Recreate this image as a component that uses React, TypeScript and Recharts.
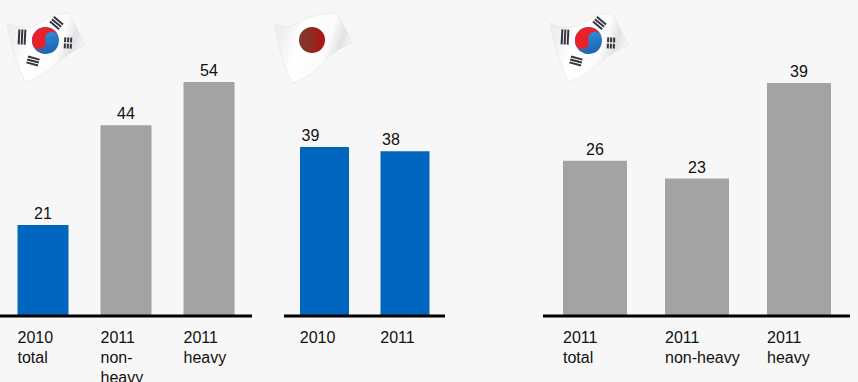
import { BarChart, Bar, Cell, XAxis, YAxis, LabelList } from "recharts";

const BLUE = "#0066bf";
const GRAY = "#a3a3a3";
const FONT = '"Liberation Sans", Arial, sans-serif';

const koreaLeftLabels = [["2010", "total"], ["2011", "non-", "heavy"], ["2011", "heavy"]];
const koreaLeftValues = [21, 44, 54];
const koreaLeftColors = [BLUE, GRAY, GRAY];

const japanLabels = [["2010"], ["2011"]];
const japanValues = [39, 38];
const japanColors = [BLUE, BLUE];

const koreaRightLabels = [["2011", "total"], ["2011", "non-heavy"], ["2011", "heavy"]];
const koreaRightValues = [26, 23, 39];
const koreaRightColors = [GRAY, GRAY, GRAY];

const BASELINE = 316;

interface PanelProps {
  left: number;
  width: number;
  top: number;
  barSize: number;
  padLeft: number;
  padRight: number;
  labelDx?: number;
  labels: string[][];
  values: number[];
  colors: string[];
}

function Panel({ left, width, top, barSize, padLeft, padRight, labelDx = 0, labels, values, colors }: PanelProps) {
  const rows = labels.map((lines, i) => ({ key: lines.join(" ") + i, lines, value: values[i] }));

  const renderTick = (props: any) => {
    const lines = labels[props.index] ?? [];
    return (
      <text x={props.x - barSize / 2} y={BASELINE + 27} fontFamily={FONT} fontSize={16} fill="#111">
        {lines.map((line, i) => (
          <tspan key={line} x={props.x - barSize / 2} dy={i === 0 ? 0 : 20}>
            {line}
          </tspan>
        ))}
      </text>
    );
  };

  // value labels sit above the bar, nudged sideways where the panel needs it
  const renderValue = (props: any) => {
    const cx = props.x + props.width / 2 + labelDx;
    return (
      <text x={cx} y={props.y - 6} textAnchor="middle" fontFamily={FONT} fontSize={16} fill="#111">
        {props.value}
      </text>
    );
  };

  return (
    <div style={{ position: "absolute", left, top: 0 }}>
      <BarChart
        width={width}
        height={382}
        data={rows}
        margin={{ top, right: 0, bottom: 0, left: 0 }}
        barCategoryGap={0}
      >
        <XAxis
          dataKey="key"
          height={382 - BASELINE}
          interval={0}
          tickLine={false}
          axisLine={{ stroke: "#000", strokeWidth: 3 }}
          padding={{ left: padLeft, right: padRight }}
          tick={renderTick}
        />
        <YAxis hide domain={[0, Math.max(...values)]} />
        <Bar dataKey="value" barSize={barSize} isAnimationActive={false}>
          {rows.map((row, i) => (
            <Cell key={row.key} fill={colors[i]} />
          ))}
          <LabelList dataKey="value" content={renderValue} />
        </Bar>
      </BarChart>
    </div>
  );
}

function Trigram({ x, y, angle, h = 14, broken = false }: { x: number; y: number; angle: number; h?: number; broken?: boolean }) {
  const bars = [-4, -1, 2];
  return (
    <g transform={`translate(${x} ${y}) rotate(${angle})`} fill="#34343f">
      {bars.map((bx) =>
        broken ? (
          <g key={bx}>
            <rect x={bx} y={-h / 2} width={2} height={h / 2 - 0.7} />
            <rect x={bx} y={0.7} width={2} height={h / 2 - 0.7} />
          </g>
        ) : (
          <rect key={bx} x={bx} y={-h / 2} width={2} height={h} />
        )
      )}
    </g>
  );
}

const flagCloth =
  "M7 23 C12 26 20 28 30 27 C38 26 44 20 50 17 C56 14 62 13 68 13 C74 22 80 34 85 45 C78 48 72 52 66 56 C58 61 52 68 46 72 C39 77 32 80 25 82 C18 65 10 45 7 23 Z";
const japanCloth =
  "M275 24 C280 27 285 27 291 26 C298 24 304 19 311 17 C320 14 330 13 337 13 C342 22 348 33 352 43 C345 46 339 49 333 53 C325 59 318 69 310 75 C304 79 298 82 292 83 C284 65 277 45 275 24 Z";

function KoreaFlag({ dx }: { dx: number }) {
  return (
    <g transform={`translate(${dx} 0)`}>
      <path d={flagCloth} fill="url(#cloth)" stroke="#e2e2e2" strokeWidth={0.6} />
      <Trigram x={22} y={37} angle={3} h={15} />
      <Trigram x={56.5} y={23} angle={-50} h={12} />
      <Trigram x={68} y={43} angle={3} h={11} broken />
      <Trigram x={33} y={61} angle={-75} h={12} />
      <g transform="rotate(-18 45.5 40.5)">
        <circle cx={45.5} cy={40.5} r={13.5} fill="url(#taeBlue)" />
        <path d="M32 40.5 A13.5 13.5 0 0 1 59 40.5 A6.75 6.75 0 0 0 45.5 40.5 A6.75 6.75 0 0 1 32 40.5 Z" fill="#e8212c" />
      </g>
    </g>
  );
}

function Flags() {
  return (
    <svg width={858} height={382} style={{ position: "absolute", left: 0, top: 0 }}>
      <defs>
        <linearGradient id="cloth" x1="0" y1="0" x2="1" y2="0.3">
          <stop offset="0" stopColor="#ececec" />
          <stop offset="0.18" stopColor="#f0f0f0" />
          <stop offset="0.4" stopColor="#ffffff" />
          <stop offset="0.75" stopColor="#fbfbfb" />
          <stop offset="0.9" stopColor="#e2e2e2" />
          <stop offset="1" stopColor="#f2f2f2" />
        </linearGradient>
        <linearGradient id="taeBlue" x1="0" y1="0" x2="0" y2="1">
          <stop offset="0.3" stopColor="#2a8ad8" />
          <stop offset="1" stopColor="#1f62ac" />
        </linearGradient>
        <linearGradient id="sun" x1="0" y1="0" x2="1" y2="0">
          <stop offset="0" stopColor="#7c3a2c" />
          <stop offset="0.55" stopColor="#8e2b20" />
          <stop offset="1" stopColor="#b50f12" />
        </linearGradient>
        <filter id="soft" x="-5%" y="-5%" width="110%" height="110%">
          <feGaussianBlur stdDeviation="0.4" />
        </filter>
      </defs>
      <g filter="url(#soft)">
        <KoreaFlag dx={0} />
        <path d={japanCloth} fill="url(#cloth)" stroke="#e2e2e2" strokeWidth={0.6} />
        <circle cx={312} cy={40} r={13} fill="url(#sun)" />
        <KoreaFlag dx={543} />
      </g>
    </svg>
  );
}

export default function App() {
  return (
    <div
      style={{
        position: "absolute",
        left: 0,
        top: 0,
        width: 858,
        height: 382,
        overflow: "hidden",
        background: "#f7f7f7",
      }}
    >
      <Panel
        left={0}
        width={252}
        top={82}
        barSize={51}
        padLeft={1.5}
        padRight={1.5}
        labels={koreaLeftLabels}
        values={koreaLeftValues}
        colors={koreaLeftColors}
      />
      <Panel
        left={284}
        width={161}
        top={147}
        barSize={49}
        padLeft={0}
        padRight={0}
        labelDx={-14}
        labels={japanLabels}
        values={japanValues}
        colors={japanColors}
      />
      <Panel
        left={543}
        width={307}
        top={83}
        barSize={64}
        padLeft={1}
        padRight={0}
        labels={koreaRightLabels}
        values={koreaRightValues}
        colors={koreaRightColors}
      />
      <Flags />
    </div>
  );
}
